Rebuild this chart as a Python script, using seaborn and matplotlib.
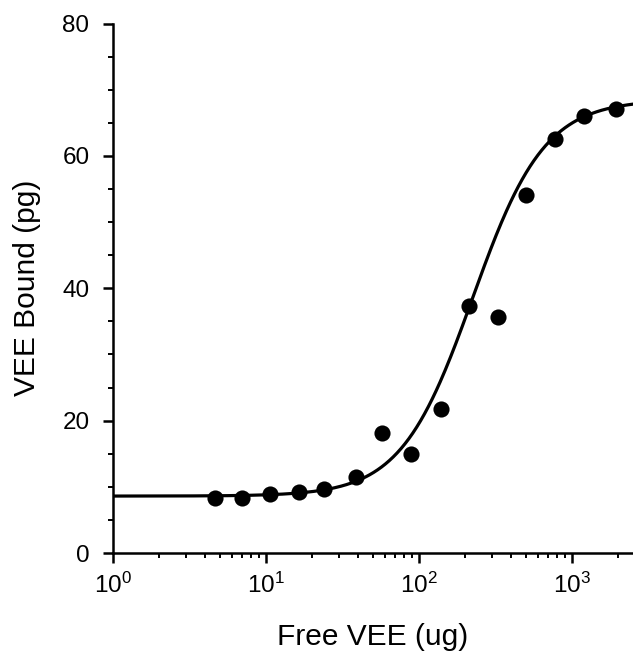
import numpy as np
import pandas as pd
import matplotlib
matplotlib.use("Agg")
import matplotlib.pyplot as plt
import matplotlib.ticker as mticker
import seaborn as sns

# Data
free_vee = [4.62, 7.0, 10.6, 16.3, 24.0, 39.0, 57.5, 89.0, 139.0, 212.0, 327.0, 500.0, 769.0, 1191.0, 1940.0]
vee_bound = [8.3, 8.35, 8.9, 9.25, 9.6, 11.5, 18.2, 14.9, 21.7, 37.3, 35.6, 54.1, 62.6, 66.0, 67.1]

# Fitted sigmoid (4-parameter logistic) parameters
fit_bottom = 8.6
fit_top = 68.5
fit_ec50 = 224.0
fit_hill = 1.85

x_ticks = [1, 10, 100, 1000]
y_ticks = [0, 20, 40, 60, 80]

sns.set_theme(style="ticks")
plt.rcParams['font.family'] = ['Liberation Sans', 'DejaVu Sans']
plt.rcParams['mathtext.fontset'] = 'custom'
plt.rcParams['mathtext.rm'] = 'Liberation Sans'
plt.rcParams['mathtext.it'] = 'Liberation Sans:italic'
plt.rcParams['text.color'] = 'black'
plt.rcParams['axes.labelcolor'] = 'black'

fig = plt.figure(figsize=(6.33, 6.55), dpi=100)
ax = fig.add_axes([113/633, 1 - 553/655, 520/633, (553 - 23.5)/655])

xs = np.logspace(0, np.log10(2500), 400)
ys = fit_bottom + (fit_top - fit_bottom) / (1 + (fit_ec50 / xs) ** fit_hill)
curve = pd.DataFrame({"x": xs, "y": ys})
pts = pd.DataFrame({"x": free_vee, "y": vee_bound})

sns.lineplot(data=curve, x="x", y="y", ax=ax, color="black", linewidth=2.3)
sns.scatterplot(data=pts, x="x", y="y", ax=ax, color="black", s=135, edgecolor="black", linewidth=0, zorder=3)

ax.set_xscale("log")
ax.set_xlim(1, 2500)
ax.set_ylim(0, 80)
ax.set_xticks(x_ticks)
ax.set_yticks(y_ticks)
ax.xaxis.set_major_formatter(mticker.LogFormatterSciNotation())
ax.xaxis.set_minor_locator(mticker.LogLocator(base=10, subs=np.arange(2, 10)))
ax.xaxis.set_minor_formatter(mticker.NullFormatter())
ax.yaxis.set_minor_locator(mticker.MultipleLocator(5))

for s in ["top", "right"]:
    ax.spines[s].set_visible(False)
for s in ["left", "bottom"]:
    ax.spines[s].set_linewidth(1.8)
    ax.spines[s].set_color("black")

ax.tick_params(axis="both", which="major", direction="out", length=7, width=1.8,
               labelsize=17.5, colors="black", pad=7)
ax.tick_params(axis="both", which="minor", direction="out", length=3.5, width=1.4, colors="black")
ax.tick_params(axis="y", which="major", pad=10)

ax.set_xlabel("Free VEE (ug)", fontsize=21.5, labelpad=18)
ax.set_ylabel("VEE Bound (pg)", fontsize=21.5, labelpad=15)

fig.savefig("out.png", dpi=100, facecolor="white")
